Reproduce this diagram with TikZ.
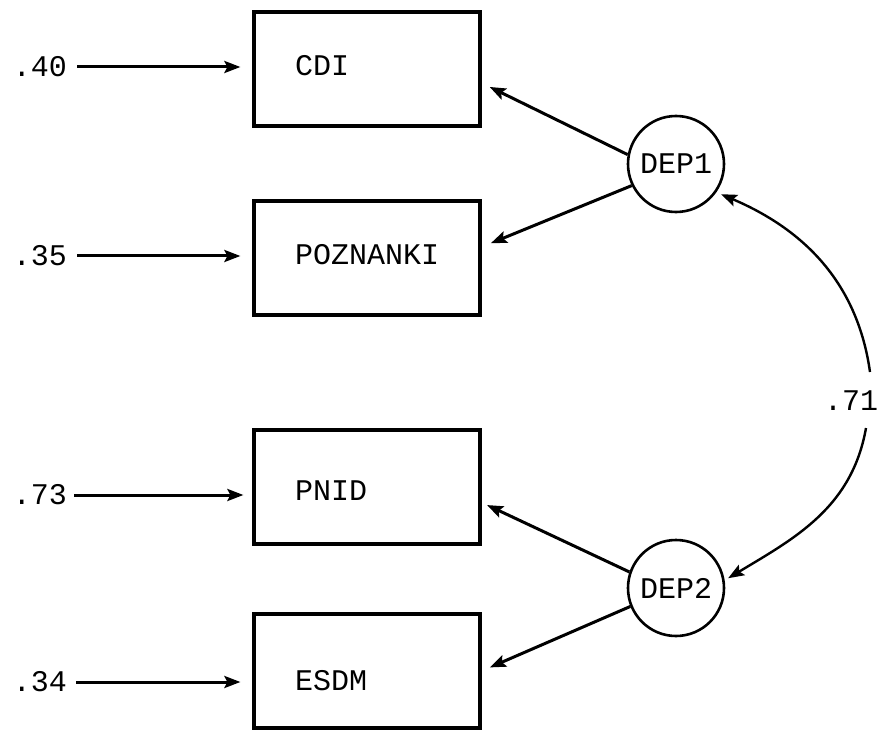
\documentclass[tikz,border=0pt]{standalone}
\usepackage{fontspec}
\setmainfont{Liberation Mono}
\usetikzlibrary{arrows.meta}

% shift a box label down (pt) without changing the node's size
\newcommand\lowered[2]{\raisebox{-#1pt}[0pt][0pt]{#2}}

\begin{document}
\begin{tikzpicture}[x=1pt,y=-1pt,
  font=\fontsize{30}{33}\selectfont,
  obs/.style={draw, line width=3.2pt, minimum width=226pt, minimum height=114pt,
              text width=144pt, inner xsep=41pt, inner ysep=0pt, align=left},
  lat/.style={draw, circle, line width=2.6pt, minimum size=96pt, inner sep=0pt},
  err/.style={inner sep=0pt},
  tip/.style={-{Stealth[length=16pt,width=12pt,inset=3pt]}},
  link/.style={tip, line width=3pt},
  corr/.style={tip, line width=2.4pt}
]
\useasboundingbox (0,0) rectangle (881,730);

% observed variables
\node[obs] (cdi)  at (367,69)  {\lowered{6.5}{CDI}};
\node[obs] (pozn) at (367,258) {\lowered{6.5}{POZNANKI}};
\node[obs] (pnid) at (367,487) {\lowered{13.5}{PNID}};
\node[obs] (esdm) at (367,671) {\lowered{19.5}{ESDM}};

% latent factors
\node[lat] (dep1) at (676,164) {DEP1};
\node[lat] (dep2) at (676,588) {DEP2};

% error variances
\node[err] (e1) at (40,67)  {.40};
\node[err] (e2) at (40,256) {.35};
\node[err] (e3) at (40,495) {.73};
\node[err] (e4) at (40,682) {.34};

\draw[link, shorten <=10pt, shorten >=12pt] (e1.east) -- (e1.east -| cdi.west);
\draw[link, shorten <=10pt, shorten >=12pt] (e2.east) -- (e2.east -| pozn.west);
\draw[link, shorten <=7pt,  shorten >=9pt]  (e3.east) -- (e3.east -| pnid.west);
\draw[link, shorten <=9pt,  shorten >=12pt] (e4.east) -- (e4.east -| esdm.west);

% loadings
\draw[link, shorten >=9pt]  (dep1.169) -- ([yshift=-14pt]cdi.east);
\draw[link, shorten >=10pt] (dep1.206) -- ([yshift=11pt]pozn.east);
\draw[link, shorten >=6pt]  (dep2.161) -- ([yshift=-15.5pt]pnid.east);
\draw[link, shorten >=9pt]  (dep2.202) -- (esdm.east);

% factor correlation
\node[inner sep=0pt] (r) at (851,401) {.71};
\coordinate (ctop) at (870,372);
\coordinate (cbot) at (866,428);
\draw[corr, shorten >=5pt] (ctop) to[out=98,in=-23] (dep1.-35);
\draw[corr, shorten >=4pt] (cbot) to[out=-100,in=31] (dep2.9);
\end{tikzpicture}
\end{document}
